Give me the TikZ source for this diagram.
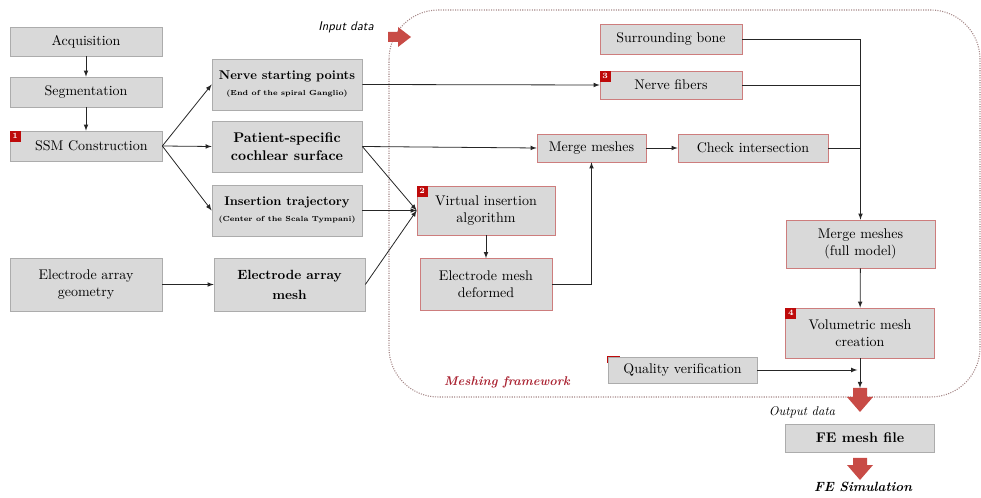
\documentclass[tikz,border=0pt]{standalone}
\usepackage{amsmath}
\usepackage{tikz}
\usetikzlibrary{shapes,arrows,positioning,calc}
\usepackage{xcolor}
\definecolor{boxred}{RGB}{205,125,125}
\definecolor{badgered}{RGB}{190,10,10}
\definecolor{arrowred}{RGB}{200,75,70}
\definecolor{framered}{RGB}{170,35,50}
\definecolor{framedot}{RGB}{165,135,135}

\begin{document}
\begin{tikzpicture}[x=0.75pt, y=-0.75pt,
    every node/.style={font=\fontsize{10.5}{12.5}\selectfont},
    box/.style={draw=gray!65, fill=gray!30, line width=0.5pt, inner sep=0pt, align=center},
    fbox/.style={box, draw=boxred},
    bbox/.style={box, font=\fontsize{9.5}{12}\selectfont\bfseries},
    badge/.style={fill=badgered, text=white, font=\fontsize{6}{6}\selectfont\bfseries, inner sep=0pt, minimum size=8pt, anchor=north west},
    arr/.style={-latex, line width=0.6pt, black!85},
    lin/.style={line width=0.6pt, black!85}]
    \useasboundingbox (0,0) rectangle (981,498);

    \draw[framedot, densely dotted, line width=0.8pt, rounded corners=37pt] (389,10) rectangle (980,397);

    \node[box, minimum width=114pt, minimum height=21.75pt] (acq) at (86,41.5) {Acquisition};
    \node[box, minimum width=114pt, minimum height=22.5pt] (seg) at (86,92) {Segmentation};
    \node[box, minimum width=114pt, minimum height=22.5pt] (ssm) at (86,146) {\hspace*{8pt}SSM Construction};
    \node[box, minimum width=114pt, minimum height=39.75pt] (geom) at (86,284.5) {Electrode array\\geometry};

    \node[bbox, minimum width=112.5pt, minimum height=38.25pt] (nsp) at (287,84.5) {Nerve starting points\\{\fontsize{5.5}{7}\selectfont (End of the spiral Ganglio)}};
    \node[bbox, minimum width=112.5pt, minimum height=38.25pt, font=\fontsize{10.5}{14}\selectfont\bfseries] (pcs) at (287,146.5) {Patient-specific\\cochlear surface};
    \node[bbox, minimum width=112.5pt, minimum height=38.25pt] (itr) at (287,210.5) {Insertion trajectory\\{\fontsize{5.5}{7}\selectfont (Center of the Scala Tympani)}};
    \node[bbox, minimum width=113.25pt, minimum height=39.75pt, font=\fontsize{10}{15}\selectfont\bfseries] (eam) at (289.5,284.5) {Electrode array\\mesh};

    \node[fbox, minimum width=103.5pt, minimum height=36.75pt] (via) at (486,210.5) {Virtual insertion\\algorithm};
    \node[fbox, minimum width=99pt, minimum height=39pt] (emd) at (486,284.5) {Electrode mesh\\deformed};
    \node[fbox, minimum width=81.75pt, minimum height=21pt] (mm1) at (591.5,148) {Merge meshes};
    \node[fbox, minimum width=112.5pt, minimum height=21pt] (chk) at (753,148) {Check intersection};
    \node[fbox, minimum width=106.5pt, minimum height=22.5pt] (bone) at (671,39) {Surrounding bone};
    \node[fbox, minimum width=106.5pt, minimum height=21pt] (nfib) at (671,85) {Nerve fibers};
    \node[fbox, minimum width=111.75pt, minimum height=36pt] (mmf) at (860.5,244) {Merge meshes\\(full model)};
    \node[fbox, minimum width=111.75pt, minimum height=37.5pt] (vol) at (860,333) {Volumetric mesh\\creation};
    \node[box, minimum width=111.75pt, minimum height=19.5pt] (qv) at (682.5,370) {Quality verification};
    \node[box, minimum width=111.75pt, minimum height=21pt, font=\fontsize{10.5}{12.5}\selectfont\bfseries] (fem) at (860,438) {FE mesh file};

    \node[badge] (b1) at (ssm.north west) {1};
    \node[badge] (b2) at (via.north west) {2};
    \node[badge] (b3) at (nfib.north west) {3};
    \node[badge] (b4) at (vol.north west) {4};
    \draw[badgered, line width=1pt] ($(qv.north west)+(0,6)$) -- (qv.north west) -- ++(12,0);

    \node[font=\fontsize{9.5}{11}\selectfont\sffamily\itshape] (indata) at (346,27) {Input data};
    \node[font=\fontsize{9.5}{11}\selectfont\bfseries\itshape, text=framered] (mframe) at (507,382) {Meshing framework};
    \node[font=\fontsize{9.5}{11}\selectfont\itshape] (outdata) at (802,412) {Output data};
    \node[font=\fontsize{10}{12}\selectfont\bfseries\itshape] (fesim) at (863,487) {FE Simulation};

    \fill[arrowred] (388,32) -- (398,32) -- (398,27) -- (411,37) -- (398,47) -- (398,42) -- (388,42) -- cycle;
    \fill[arrowred] (853,388) -- (867,388) -- (867,397) -- (873,397) -- (860,412) -- (847,397) -- (853,397) -- cycle;
    \fill[arrowred] (853,458) -- (867,458) -- (867,465) -- (873,465) -- (860,480) -- (847,465) -- (853,465) -- cycle;

    \draw[arr] (acq) -- (seg);
    \draw[arr] (seg) -- (ssm);
    \draw[arr] (ssm.east) -- (nsp.west);
    \draw[arr] (ssm.east) -- (pcs.west);
    \draw[arr] (ssm.east) -- (itr.west);
    \draw[arr] (geom) -- (eam);
    \draw[arr] (nsp.east) -- (nfib.west);
    \draw[arr] (pcs.east) -- (mm1.west);
    \draw[arr] (pcs.east) -- (via.west);
    \draw[arr] (itr.east) -- (via.west);
    \draw[arr] (eam.east) -- (via.west);
    \draw[arr] (via) -- (emd);
    \draw[arr] (emd.east) -| (mm1.south);
    \draw[arr] (mm1) -- (chk);
    \draw[arr] (bone.east) -| (mmf.north);
    \draw[lin] (nfib.east) -- (nfib.east -| mmf.north);
    \draw[lin] (chk.east) -- (chk.east -| mmf.north);
    \draw[arr] (mmf) -- (vol);
    \coordinate (join) at (860,388);
    \draw[arr] (vol.south) -- (join);
    \draw[arr, shorten >=2pt] (qv.east) -- (qv.east -| join);
\end{tikzpicture}
\end{document}
